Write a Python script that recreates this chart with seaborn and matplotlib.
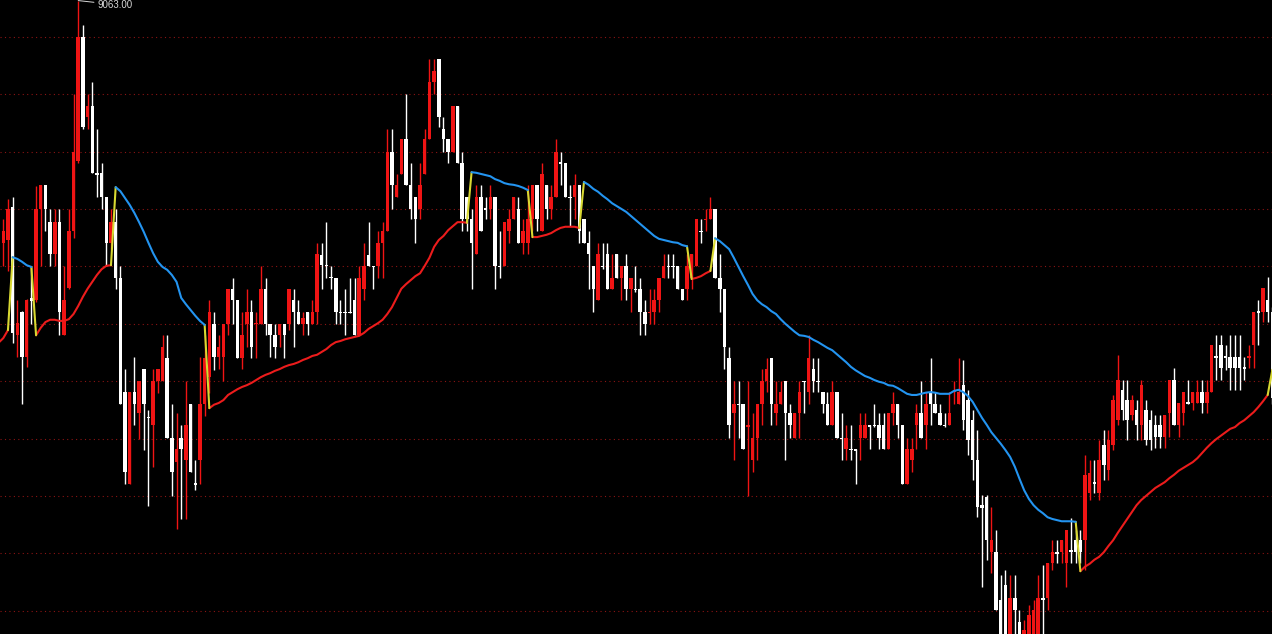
import numpy as np
import pandas as pd
import matplotlib
matplotlib.use("Agg")
import matplotlib.pyplot as plt
import seaborn as sns

# daily bars
open_ = [
    8700, 8640, 8646, 8703, 8481, 8520, 8442, 8545, 8541, 8700, 8741, 8678, 8622, 8678, 8481, 8562, 8661, 8784,
    9000, 8861, 8880, 8762, 8762, 8720, 8640, 8678, 8580, 8381, 8221, 8381, 8344, 8421, 8337, 8323, 8400,
    8400, 8440, 8301, 8259, 8301, 8263, 8361, 8222, 8263, 8361, 8407, 8500, 8442, 8442, 8500, 8561, 8541,
    8440, 8500, 8520, 8499, 8500, 8561, 8500, 8481, 8481, 8500, 8500, 8541, 8520, 8500, 8520, 8500, 8520,
    8620, 8602, 8582, 8580, 8521, 8521, 8521, 8541, 8481, 8561, 8620, 8601, 8600, 8640, 8661, 8800, 8720,
    8761, 8821, 8741, 8720, 8700, 8761, 8821, 8921, 8961, 8840, 8821, 8800, 8880, 8780, 8720, 8682, 8622,
    8720, 8701, 8700, 8720, 8601, 8600, 8661, 8682, 8700, 8640, 8640, 8682, 8741, 8661, 8741, 8700, 8720,
    8781, 8780, 8721, 8720, 8741, 8682, 8640, 8600, 8541, 8601, 8622, 8561, 8622, 8580, 8600, 8561, 8561, 8561,
    8520, 8519, 8520, 8541, 8580, 8601, 8601, 8600, 8561, 8561, 8580, 8600, 8661, 8680, 8682, 8700, 8580,
    8561, 8440, 8344, 8361, 8361, 8320, 8263, 8301, 8361, 8400, 8440, 8344, 8361, 8400, 8344, 8301, 8344,
    8400, 8381, 8421, 8401, 8381, 8361, 8323, 8381, 8301, 8282, 8282, 8281, 8301, 8301, 8323, 8324, 8323,
    8323, 8282, 8344, 8361, 8323, 8221, 8263, 8323, 8344, 8323, 8381, 8361, 8344, 8324, 8323, 8381, 8361,
    8393, 8367, 8332, 8263, 8184, 8198, 8102, 8102, 8019, 8045, 7949, 8022, 7981, 7932, 7949, 7958, 7960,
    8022, 8022, 8083, 8102, 8102, 8083, 8106, 8123, 8123, 8123, 8205, 8224, 8205, 8289, 8245, 8289, 8332,
    8385, 8367, 8341, 8350, 8324, 8350, 8332, 8324, 8324, 8303, 8345, 8402, 8324, 8345, 8364, 8362, 8362,
    8381, 8362, 8381, 8444, 8463, 8444, 8442, 8442, 8442, 8425, 8440, 8463, 8522, 8521, 8541, 8521,
]
high = [
    8718, 8682, 8718, 8720, 8541, 8522, 8543, 8600, 8740, 8741, 8741, 8700, 8700, 8700, 8600, 8700, 8900, 9063,
    9020, 8900, 8921, 8840, 8780, 8720, 8700, 8700, 8600, 8421, 8381, 8442, 8400, 8421, 8350, 8421, 8421,
    8481, 8481, 8361, 8344, 8323, 8400, 8361, 8263, 8442, 8481, 8541, 8520, 8481, 8500, 8561, 8580, 8541,
    8520, 8561, 8541, 8520, 8600, 8580, 8500, 8500, 8500, 8500, 8561, 8561, 8541, 8520, 8520, 8541, 8640,
    8640, 8678, 8600, 8580, 8541, 8561, 8580, 8580, 8600, 8640, 8678, 8601, 8661, 8678, 8840, 8840, 8761,
    8821, 8901, 8780, 8720, 8780, 8840, 8961, 8961, 8961, 8861, 8821, 8880, 8880, 8800, 8720, 8700, 8741,
    8741, 8720, 8741, 8720, 8661, 8678, 8700, 8720, 8720, 8682, 8741, 8741, 8741, 8780, 8741, 8741, 8821,
    8800, 8780, 8741, 8761, 8741, 8682, 8661, 8600, 8640, 8640, 8640, 8622, 8622, 8600, 8622, 8580, 8600, 8580,
    8541, 8561, 8561, 8580, 8622, 8622, 8622, 8600, 8561, 8622, 8622, 8682, 8682, 8700, 8720, 8700, 8622,
    8561, 8460, 8400, 8400, 8361, 8400, 8344, 8361, 8421, 8440, 8440, 8400, 8400, 8400, 8361, 8344, 8400,
    8400, 8481, 8440, 8440, 8381, 8381, 8400, 8381, 8344, 8323, 8323, 8282, 8344, 8344, 8323, 8361, 8344,
    8344, 8344, 8381, 8361, 8323, 8301, 8301, 8361, 8400, 8381, 8440, 8381, 8361, 8344, 8381, 8400, 8440,
    8437, 8385, 8350, 8315, 8202, 8202, 8181, 8141, 8062, 8071, 8062, 8062, 8001, 7984, 8010, 8019, 8062,
    8080, 8083, 8123, 8123, 8123, 8141, 8162, 8141, 8141, 8271, 8263, 8263, 8298, 8315, 8315, 8376, 8446,
    8402, 8402, 8376, 8367, 8402, 8367, 8350, 8341, 8341, 8341, 8402, 8423, 8362, 8381, 8402, 8381, 8402,
    8402, 8402, 8463, 8480, 8480, 8463, 8480, 8480, 8480, 8442, 8463, 8521, 8541, 8562, 8581, 8530,
]
low = [
    8664, 8601, 8592, 8466, 8442, 8361, 8425, 8500, 8538, 8600, 8661, 8601, 8601, 8481, 8481, 8560, 8650, 8780,
    8840, 8840, 8762, 8720, 8700, 8600, 8630, 8560, 8361, 8221, 8221, 8323, 8300, 8280, 8182, 8250, 8380,
    8400, 8301, 8200, 8143, 8160, 8160, 8241, 8210, 8221, 8340, 8380, 8420, 8421, 8400, 8480, 8500, 8440,
    8421, 8460, 8440, 8440, 8500, 8481, 8442, 8440, 8460, 8440, 8490, 8460, 8500, 8481, 8481, 8500, 8500,
    8561, 8580, 8561, 8500, 8500, 8481, 8518, 8481, 8481, 8541, 8600, 8561, 8580, 8580, 8661, 8700, 8720,
    8761, 8741, 8682, 8640, 8682, 8761, 8821, 8901, 8842, 8800, 8780, 8800, 8780, 8661, 8661, 8561, 8622,
    8661, 8682, 8682, 8561, 8580, 8600, 8640, 8682, 8640, 8622, 8622, 8661, 8661, 8661, 8682, 8682, 8720,
    8741, 8720, 8671, 8682, 8640, 8640, 8561, 8520, 8541, 8595, 8561, 8561, 8580, 8541, 8541, 8520, 8555, 8481,
    8481, 8500, 8500, 8520, 8580, 8580, 8580, 8561, 8541, 8541, 8560, 8600, 8640, 8661, 8682, 8580, 8520,
    8421, 8301, 8263, 8301, 8282, 8200, 8241, 8263, 8323, 8381, 8323, 8323, 8361, 8263, 8301, 8301, 8301,
    8344, 8361, 8381, 8381, 8344, 8323, 8323, 8301, 8263, 8263, 8263, 8221, 8263, 8301, 8282, 8320, 8282,
    8282, 8282, 8323, 8301, 8221, 8221, 8241, 8282, 8301, 8282, 8323, 8344, 8323, 8320, 8323, 8361, 8361,
    8315, 8271, 8228, 8163, 8041, 8089, 8066, 8001, 7932, 7932, 7940, 7960, 7914, 7914, 7923, 7940, 7940,
    7960, 8001, 8071, 8083, 8083, 8041, 8083, 8083, 8083, 8071, 8193, 8205, 8193, 8228, 8228, 8280, 8324,
    8332, 8298, 8332, 8298, 8298, 8289, 8280, 8284, 8284, 8284, 8303, 8324, 8303, 8324, 8360, 8350, 8362,
    8345, 8345, 8381, 8402, 8402, 8419, 8385, 8385, 8385, 8402, 8423, 8423, 8463, 8503, 8503, 8360,
]
close = [
    8677, 8661, 8700, 8484, 8502, 8442, 8541, 8540, 8700, 8741, 8700, 8622, 8678, 8520, 8541, 8661, 8800, 9000,
    8842, 8880, 8763, 8760, 8720, 8640, 8678, 8580, 8361, 8242, 8381, 8361, 8400, 8361, 8335, 8400, 8421,
    8460, 8301, 8241, 8282, 8282, 8323, 8241, 8220, 8361, 8440, 8520, 8442, 8460, 8500, 8561, 8541, 8440,
    8481, 8520, 8460, 8501, 8561, 8500, 8481, 8460, 8500, 8481, 8561, 8520, 8500, 8510, 8500, 8520, 8622,
    8602, 8600, 8580, 8520, 8519, 8519, 8519, 8481, 8580, 8600, 8600, 8599, 8640, 8661, 8800, 8741, 8741,
    8821, 8741, 8700, 8682, 8741, 8821, 8921, 8941, 8861, 8821, 8800, 8880, 8780, 8682, 8682, 8640, 8720,
    8661, 8699, 8720, 8600, 8599, 8678, 8682, 8720, 8640, 8661, 8682, 8741, 8682, 8761, 8700, 8720, 8800,
    8779, 8720, 8719, 8741, 8661, 8640, 8622, 8561, 8622, 8599, 8561, 8580, 8580, 8600, 8561, 8580, 8559, 8520,
    8500, 8521, 8541, 8580, 8600, 8599, 8599, 8561, 8541, 8600, 8622, 8682, 8659, 8682, 8700, 8580, 8561,
    8460, 8323, 8361, 8359, 8282, 8323, 8301, 8361, 8400, 8421, 8361, 8361, 8381, 8344, 8323, 8344, 8381,
    8398, 8440, 8400, 8399, 8361, 8323, 8381, 8301, 8299, 8301, 8280, 8279, 8323, 8323, 8321, 8322, 8301,
    8282, 8344, 8361, 8323, 8221, 8282, 8282, 8344, 8301, 8361, 8361, 8344, 8323, 8322, 8344, 8383, 8381,
    8332, 8298, 8263, 8181, 8179, 8123, 8123, 8001, 7949, 7949, 8022, 8001, 7940, 7967, 7993, 8001, 8022,
    8019, 8083, 8102, 8099, 8123, 8141, 8102, 8102, 8102, 8237, 8240, 8221, 8263, 8254, 8298, 8367, 8402,
    8350, 8332, 8367, 8324, 8393, 8298, 8298, 8303, 8303, 8341, 8402, 8324, 8362, 8381, 8360, 8381, 8381,
    8362, 8381, 8463, 8440, 8423, 8440, 8423, 8423, 8423, 8421, 8444, 8521, 8519, 8562, 8521, 8370,
]

# trailing stop line (one value per bar) and its direction runs
stop_line = [
    8467, 8475, 8489, 8616, 8613, 8608, 8602, 8599, 8480, 8493, 8503, 8507, 8507, 8505, 8505, 8508, 8517, 8531,
    8547, 8561, 8573, 8585, 8595, 8601, 8602, 8738, 8731, 8719, 8707, 8693, 8677, 8660, 8641, 8623, 8608,
    8599, 8594, 8585, 8573, 8545, 8534, 8524, 8514, 8505, 8498, 8353, 8359, 8362, 8367, 8376, 8381, 8386,
    8390, 8393, 8397, 8402, 8407, 8411, 8414, 8418, 8421, 8425, 8428, 8430, 8433, 8437, 8440, 8444, 8446,
    8451, 8456, 8463, 8468, 8470, 8473, 8475, 8477, 8479, 8484, 8491, 8496, 8501, 8507, 8517, 8529, 8545,
    8561, 8569, 8576, 8583, 8588, 8601, 8615, 8634, 8646, 8653, 8663, 8670, 8677, 8677, 8676, 8764, 8763,
    8761, 8759, 8757, 8752, 8749, 8745, 8743, 8742, 8740, 8737, 8733, 8651, 8651, 8653, 8655, 8658, 8663,
    8667, 8669, 8669, 8669, 8667, 8747, 8742, 8735, 8730, 8723, 8717, 8710, 8705, 8700, 8695, 8688, 8681,
    8674, 8667, 8660, 8653, 8648, 8646, 8644, 8642, 8641, 8637, 8635, 8578, 8580, 8583, 8588, 8592, 8649,
    8644, 8637, 8630, 8615, 8599, 8583, 8568, 8552, 8541, 8534, 8529, 8522, 8517, 8508, 8500, 8493, 8486,
    8480, 8479, 8477, 8472, 8468, 8463, 8458, 8454, 8447, 8440, 8433, 8425, 8419, 8414, 8409, 8406, 8402,
    8399, 8397, 8393, 8392, 8388, 8383, 8378, 8376, 8376, 8378, 8380, 8381, 8380, 8378, 8378, 8378, 8383,
    8385, 8381, 8374, 8364, 8350, 8336, 8324, 8311, 8301, 8291, 8280, 8268, 8251, 8230, 8210, 8195, 8184,
    8176, 8170, 8163, 8160, 8158, 8156, 8156, 8156, 8155, 8069, 8077, 8082, 8089, 8094, 8102, 8113, 8123,
    8136, 8148, 8160, 8172, 8184, 8193, 8200, 8207, 8214, 8219, 8224, 8231, 8237, 8244, 8249, 8254, 8259,
    8266, 8275, 8284, 8292, 8299, 8305, 8311, 8317, 8320, 8327, 8332, 8339, 8346, 8355, 8365, 8376, 8420,
]
trend_runs = [("up", 3), ("down", 5), ("up", 17), ("down", 20), ("up", 56), ("down", 13),
              ("up", 11), ("down", 23), ("up", 5), ("down", 78), ("up", 41), ("down", 1)]

grid_levels = [8000, 8100, 8200, 8300, 8400, 8500, 8600, 8700, 8800, 8900, 9000]
peak_label = "9063.00"

UP_COL = "#f01414"
DOWN_COL = "#ffffff"
line_palette = {"up": "#ec1c1c", "down": "#2394f0", "switch": "#d8d832"}

sns.set_theme(style="dark", rc={"axes.facecolor": "black", "figure.facecolor": "black"})
plt.rcParams["font.family"] = ["Liberation Sans", "DejaVu Sans"]

bars = pd.DataFrame({"open": open_, "high": high, "low": low, "close": close})
bars["idx"] = np.arange(len(bars))
bars["trend"] = np.repeat([t for t, _ in trend_runs], [n for _, n in trend_runs])
colors = np.where(bars["close"] >= bars["open"], UP_COL, DOWN_COL)

# split the stop line into coloured pieces, yellow where the direction flips
pieces = []
for i in range(1, len(bars)):
    kind = bars.trend[i] if bars.trend[i] == bars.trend[i - 1] else "switch"
    if not pieces or pieces[-1][0] != kind:
        pieces.append((kind, [i - 1]))
    pieces[-1][1].append(i)
line_df = pd.DataFrame([(k, n, j, stop_line[j]) for n, (k, pts) in enumerate(pieces) for j in pts],
                       columns=["kind", "piece", "idx", "value"])

fig = plt.figure(figsize=(12.72, 6.34), dpi=100)
ax = fig.add_axes([0, 0, 1, 1])
ax.set_facecolor("black")

for lv in grid_levels:
    ax.axhline(lv, color="#8c1414", ls=(0, (1, 3)), lw=0.8, zorder=0)

ax.vlines(bars["idx"], bars["low"], bars["high"], colors=colors, lw=1.0, zorder=1)
body = (bars["close"] - bars["open"]).abs().clip(lower=1.8)
ax.bar(bars["idx"], body, bottom=bars[["open", "close"]].min(axis=1), width=0.74,
       color=colors, linewidth=0, zorder=2)

sns.lineplot(data=line_df, x="idx", y="value", hue="kind", units="piece", estimator=None,
             sort=False, palette=line_palette, lw=1.5, legend=False, ax=ax, zorder=3)

peak = bars["high"].idxmax()
ax.annotate(peak_label, xy=(peak, bars["high"][peak]), xytext=(19, -4), textcoords="offset pixels",
            ha="left", va="center", color="#d8d8d8", fontsize=7,
            arrowprops=dict(arrowstyle="-", color="#d8d8d8", lw=0.7, shrinkA=0, shrinkB=0))

ax.set_xlim(0.3, 271.92)
ax.set_ylim(7959.6, 9064)
ax.set_xticks([])
ax.set_yticks([])
ax.set_xlabel("")
ax.set_ylabel("")
for s in ax.spines.values():
    s.set_visible(False)

fig.savefig("out.png", dpi=100, facecolor="black")
